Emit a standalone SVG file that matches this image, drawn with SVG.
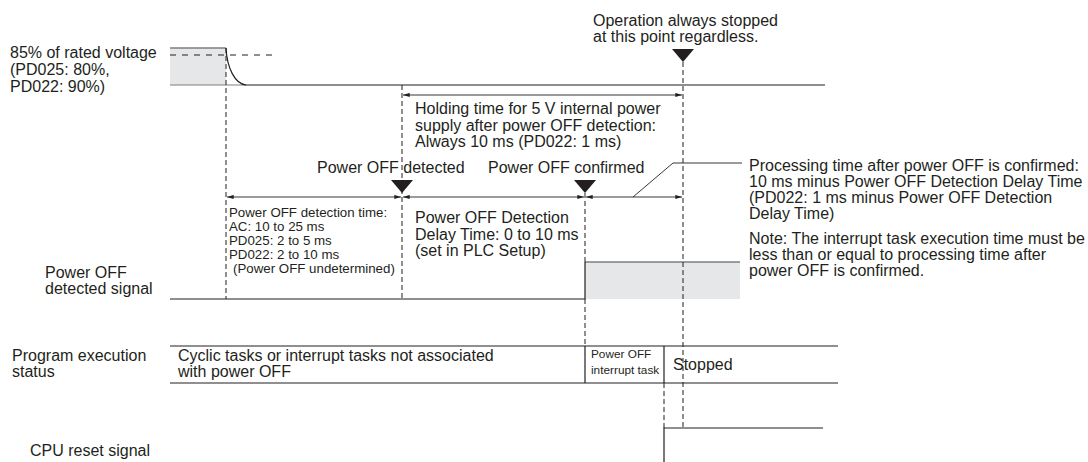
<svg xmlns="http://www.w3.org/2000/svg" width="1088" height="462" viewBox="0 0 1088 462">
<defs>
<marker id="ah" viewBox="0 0 8 6" refX="8" refY="3" markerWidth="7" markerHeight="5" orient="auto-start-reverse" markerUnits="userSpaceOnUse"><path d="M0,0.5 L8,3 L0,5.5 Z" fill="#231f20"/></marker>
</defs>
<style>
text{font-family:"Liberation Sans",Arial,Helvetica,sans-serif;fill:#231f20;font-size:16px}
.s{font-size:13.3px}
.xs{font-size:11.8px}
.ln{stroke:#231f20;stroke-width:1.2;fill:none}
.gl{stroke:#7f7f7f;stroke-width:1.6;fill:none}
.dash{stroke:#231f20;stroke-width:1;stroke-dasharray:5 3;fill:none}
.dim{stroke:#231f20;stroke-width:0.9;fill:none;marker-start:url(#ah);marker-end:url(#ah)}
.gray{fill:#e6e7e8}
.tri{fill:#231f20}
</style>

<g id="voltage">
<rect class="gray" x="170" y="48" width="56" height="37"/>
<line class="gl" x1="170" y1="48" x2="226" y2="48"/>
<line x1="170" y1="85" x2="245" y2="85" stroke="#7f7f7f" stroke-width="1.2"/>
<path class="ln" d="M226,48 C227,68 235,84 246,85"/>
<line class="ln" x1="245" y1="85" x2="825" y2="85"/>
<line class="dash" x1="170" y1="55" x2="272" y2="55" style="stroke-dasharray:6 6"/>
<text x="10" y="58">85% of rated voltage</text>
<text x="10" y="75">(PD025: 80%,</text>
<text x="10" y="92">PD022: 90%)</text>
</g>

<g id="stop-point">
<polygon class="tri" points="672,49 694,49 683,62"/>
<text x="593" y="26">Operation always stopped</text>
<text x="593" y="42">at this point regardless.</text>
</g>

<g id="holding-time">
<text x="415" y="114">Holding time for 5 V internal power</text>
<text x="415" y="131">supply after power OFF detection:</text>
<text x="415" y="147">Always 10 ms (PD022: 1 ms)</text>
</g>

<g id="power-off-detected">
<polygon class="tri" points="391,180 413,180 402,193"/>
<text x="317" y="173">Power OFF detected</text>
</g>

<g id="power-off-confirmed">
<polygon class="tri" points="574,180 596,180 585,193"/>
<text x="488" y="173">Power OFF confirmed</text>
</g>

<g id="detection-time">
<text class="s" x="229" y="217">Power OFF detection time:</text>
<text class="s" x="229" y="231">AC: 10 to 25 ms</text>
<text class="s" x="229" y="245">PD025: 2 to 5 ms</text>
<text class="s" x="229" y="259">PD022: 2 to 10 ms</text>
<text class="s" x="233" y="273">(Power OFF undetermined)</text>
</g>

<g id="delay-time">
<text x="415" y="223">Power OFF Detection</text>
<text x="415" y="240">Delay Time: 0 to 10 ms</text>
<text x="415" y="256">(set in PLC Setup)</text>
</g>

<g id="processing-time">
<text x="749" y="171">Processing time after power OFF is confirmed:</text>
<text x="749" y="187">10 ms minus Power OFF Detection Delay Time</text>
<text x="749" y="203">(PD022: 1 ms minus Power OFF Detection</text>
<text x="749" y="219">Delay Time)</text>
<text x="749" y="244">Note: The interrupt task execution time must be</text>
<text x="749" y="260">less than or equal to processing time after</text>
<text x="749" y="276">power OFF is confirmed.</text>
</g>

<g id="detected-signal">
<rect class="gray" x="585" y="262" width="155" height="37"/>
<line class="gl" x1="585" y1="262" x2="740" y2="262"/>
<polyline class="ln" points="170,299 585,299 585,262"/>
<text x="45" y="278">Power OFF</text>
<text x="45" y="294">detected signal</text>
</g>

<g id="program-status">
<line class="ln" x1="170" y1="346" x2="838" y2="346"/>
<line class="ln" x1="170" y1="383" x2="838" y2="383"/>
<line class="ln" x1="585" y1="346" x2="585" y2="383"/>
<line class="ln" x1="664" y1="346" x2="664" y2="383"/>
<text x="12" y="361">Program execution</text>
<text x="12" y="377">status</text>
<text x="178" y="361">Cyclic tasks or interrupt tasks not associated</text>
<text x="178" y="377">with power OFF</text>
<text class="xs" x="591" y="358">Power OFF</text>
<text class="xs" x="591" y="374">interrupt task</text>
<text x="673" y="370">Stopped</text>
</g>

<g id="cpu-reset">
<polyline class="ln" points="664,462 664,428 823,428"/>
<text x="30" y="456">CPU reset signal</text>
</g>

<g id="connectors">
<line class="dash" x1="226" y1="48" x2="226" y2="299"/>
<line class="dash" x1="402" y1="85" x2="402" y2="299"/>
<line class="dash" x1="585" y1="193" x2="585" y2="262"/>
<line class="dash" x1="585" y1="299" x2="585" y2="346"/>
<line class="dash" x1="683" y1="62" x2="683" y2="428"/>
<line class="dash" x1="664" y1="383" x2="664" y2="428"/>
<line class="dim" x1="403" y1="95" x2="682" y2="95"/>
<line class="dim" x1="227" y1="197" x2="401" y2="197"/>
<line class="dim" x1="403" y1="197" x2="584" y2="197"/>
<line class="dim" x1="586" y1="197" x2="682" y2="197"/>
<polyline class="ln" style="stroke-width:0.9" points="633,197 673,163 742,163"/>
</g>
</svg>
